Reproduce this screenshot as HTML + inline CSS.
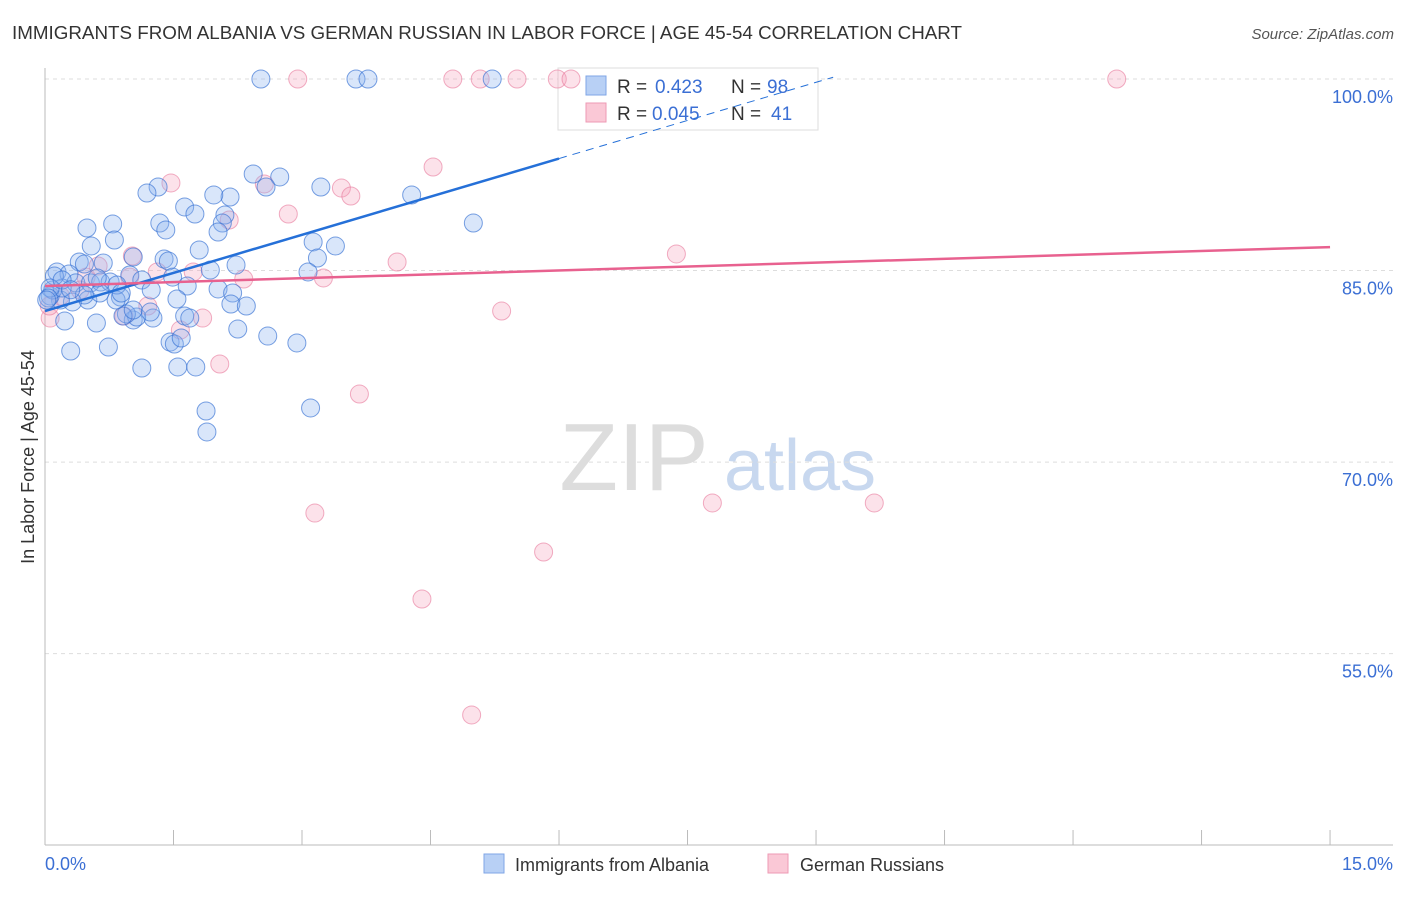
<!DOCTYPE html>
<html><head><meta charset="utf-8"><style>
body{margin:0;background:#fff;font-family:"Liberation Sans",sans-serif;}
svg text{font-family:"Liberation Sans",sans-serif;}
</style></head><body>
<svg id="chart" width="1406" height="892">
<text x="12" y="39" font-size="18" fill="#333" textLength="950" lengthAdjust="spacingAndGlyphs">IMMIGRANTS FROM ALBANIA VS GERMAN RUSSIAN IN LABOR FORCE | AGE 45-54 CORRELATION CHART</text>
<text x="1394" y="39" font-size="15" fill="#555" font-style="italic" text-anchor="end">Source: ZipAtlas.com</text>
<g>
<text x="634" y="490" font-size="96" fill="#ddd" font-family="Liberation Serif, serif" text-anchor="middle">ZIP</text>
<text x="800" y="490" font-size="72" fill="#c8d8ef" text-anchor="middle">atlas</text>
</g>
<g id="grid"></g>
<g id="axes"></g>
<g>
<rect x="558" y="68" width="260" height="62" fill="#fff" stroke="#ddd"/>
<rect x="586" y="76" width="20" height="19" fill="#b8d0f5" stroke="#7fa6e6"/>
<rect x="586" y="103" width="20" height="19" fill="#fac8d6" stroke="#ee9ab4"/>
<text x="617" y="93" font-size="19" fill="#333">R =</text>
<text x="655" y="93" font-size="19" fill="#3b6fd4">0.423</text>
<text x="731" y="93" font-size="19" fill="#333">N =</text>
<text x="767" y="93" font-size="19" fill="#3b6fd4">98</text>
<text x="617" y="120" font-size="19" fill="#333">R =</text>
<text x="652" y="120" font-size="19" fill="#3b6fd4">0.045</text>
<text x="731" y="120" font-size="19" fill="#333">N =</text>
<text x="771" y="120" font-size="19" fill="#3b6fd4">41</text>
</g>
<g id="points"></g>
<g id="trend"></g>
<text transform="translate(34,457) rotate(-90)" font-size="18" fill="#333" text-anchor="middle">In Labor Force | Age 45-54</text>
<text x="45" y="870" font-size="18" fill="#3b6fd4">0.0%</text>
<text x="1393" y="870" font-size="18" fill="#3b6fd4" text-anchor="end">15.0%</text>
<g>
<rect x="484" y="854" width="20" height="19" fill="#b8d0f5" stroke="#7fa6e6"/>
<text x="515" y="871" font-size="18" fill="#333">Immigrants from Albania</text>
<rect x="768" y="854" width="20" height="19" fill="#fac8d6" stroke="#ee9ab4"/>
<text x="800" y="871" font-size="18" fill="#333">German Russians</text>
</g>
</svg>
<script>
const yTicks=[100,85,70,55];
const yTickLabels=["100.0%","85.0%","70.0%","55.0%"];
const xTicks=[0,1.5,3,4.5,6,7.5,9,10.5,12,13.5,15];
const blueX=[2.52,3.63,3.77,5.22,5.00,4.28,3.22,2.74,2.43,2.58,2.16,1.97,1.32,1.19,1.63,1.75,2.10,2.07,2.02,1.34,1.41,0.49,0.79,0.81,0.54,1.80,3.13,3.39,3.18,3.07,2.23,1.93,1.39,1.44,1.03,0.68,0.40,0.46,0.14,0.28,0.99,1.49,1.66,1.13,1.24,1.54,2.02,2.19,2.17,2.35,2.25,2.60,2.94,1.46,1.51,1.59,1.63,1.69,1.26,1.03,1.07,0.95,0.91,0.74,0.30,0.23,0.60,0.88,0.83,0.50,0.32,0.18,0.06,0.09,0.20,0.36,0.53,0.65,0.76,0.84,0.89,0.64,0.61,0.11,0.06,0.04,1.13,1.55,1.76,1.88,1.89,3.10,1.03,1.23,0.20,0.46,0.02,0.30];
const blueY=[100,100,100,100,88.72,90.92,91.54,92.33,92.56,91.54,90.76,90.92,91.54,91.07,89.98,89.43,89.35,88.72,88.02,88.72,88.18,88.33,88.65,87.39,86.92,86.61,87.24,86.92,85.98,84.89,85.43,85.04,85.90,85.75,86.06,85.59,85.67,85.51,84.89,84.73,84.65,84.49,83.79,84.26,83.48,82.77,83.56,83.24,82.38,82.22,80.42,79.87,79.33,79.40,79.25,79.72,81.44,81.28,81.28,81.13,81.36,81.60,81.44,79.01,78.70,81.05,80.89,82.93,82.69,82.69,82.54,82.69,83.01,83.48,83.63,84.03,84.03,84.10,84.10,83.87,83.24,83.24,84.42,84.57,83.63,82.85,77.37,77.45,77.45,74.00,72.36,74.24,81.91,81.75,84.26,83.09,82.69,83.5];
const pinkX=[2.95,4.76,5.08,5.51,5.98,6.14,12.51,4.53,3.46,3.57,2.56,1.47,2.15,2.84,7.37,4.11,3.25,2.32,1.31,1.73,1.02,1.84,1.58,2.04,0.92,1.20,5.33,3.67,3.15,7.79,9.68,5.82,4.40,4.98,0.06,0.18,0.48,0.62,0.99,0.41,0.05];
const pinkY=[100,100,100,100,100,100,100,93.11,91.46,90.84,91.78,91.86,88.96,89.43,86.30,85.67,84.42,84.34,84.89,84.89,86.14,81.28,80.34,77.68,81.44,82.22,81.83,75.33,66.01,66.80,66.80,62.96,59.28,50.20,81.28,83.01,84.49,85.36,84.49,83.48,82.22];
const blueTrend=[81.83,1.99];
const pinkTrend=[83.79,0.203];
const NS="http://www.w3.org/2000/svg";
const X=v=>45+v*85.67, Y=v=>79+(100-v)*12.77;
function mk(tag,attrs,parent){const e=document.createElementNS(NS,tag);for(const k in attrs)e.setAttribute(k,attrs[k]);document.getElementById(parent).appendChild(e);return e;}
yTicks.forEach((t,i)=>{
 const l=mk('line',{x1:45,x2:1393,y1:Y(t),y2:Y(t),stroke:'#ddd','stroke-dasharray':'4,4'},'grid');
 
 
 const tx=mk('text',{x:1393,y:Y(t)+24,'font-size':18,fill:'#3b6fd4','text-anchor':'end'},'grid');
 tx.textContent=yTickLabels[i];
 
 
});
const ax=mk('line',{x1:45,x2:45,y1:68,y2:845,stroke:'#bbb'},'axes');


const bx=mk('line',{x1:45,x2:1393,y1:845,y2:845,stroke:'#bbb'},'axes');


xTicks.forEach(t=>{
 const l=mk('line',{x1:X(t),x2:X(t),y1:830,y2:845,stroke:'#bbb'},'axes');
 
 
});
function dots(xs,ys,fill,stroke,name){xs.forEach((x,i)=>{
 const c=mk('circle',{cx:X(x),cy:Y(ys[i]),r:9,fill:fill,stroke:stroke,'stroke-width':1},'points');
 
 
});}
dots(pinkX,pinkY,'rgba(245,160,185,0.3)','rgba(232,120,155,0.6)','german-russian-point');
dots(blueX,blueY,'rgba(140,180,240,0.33)','rgba(50,110,210,0.65)','albania-point');
const b1=mk('line',{x1:X(0),y1:Y(blueTrend[0]),x2:X(6),y2:Y(blueTrend[0]+blueTrend[1]*6),stroke:'#2570d8','stroke-width':2.5},'trend');


const b2=mk('line',{x1:X(6),y1:Y(blueTrend[0]+blueTrend[1]*6),x2:X(9.2),y2:Y(blueTrend[0]+blueTrend[1]*9.2),stroke:'#2570d8','stroke-width':1,'stroke-dasharray':'8,6'},'trend');


const p1=mk('line',{x1:X(0),y1:Y(pinkTrend[0]),x2:X(15),y2:Y(pinkTrend[0]+pinkTrend[1]*15),stroke:'#e8618f','stroke-width':2.5},'trend');


</script>
</body></html>
